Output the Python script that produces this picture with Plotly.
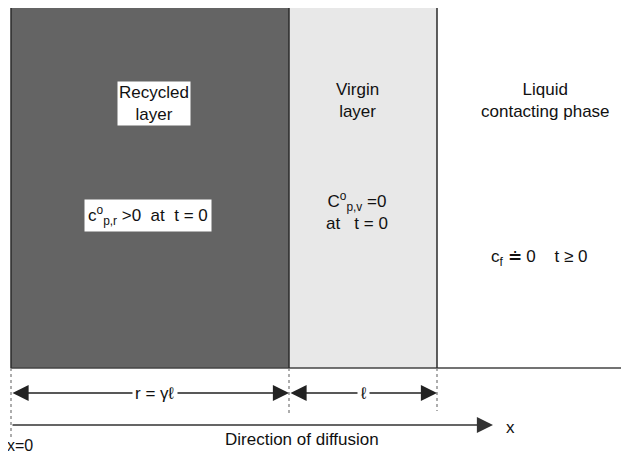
import plotly.graph_objects as go

# ---- diagram data (pixel-like units of the drawing) ----
layer_labels = ["Recycled<br>layer", "Virgin<br>layer", "Liquid<br>contacting phase"]
layer_edges = [11, 289, 437, 628]          # x boundaries of the three regions
layer_top = 5
layer_bottom = 368
layer_fills = ["#646464", "#e8e8e8", "#ffffff"]
label_centers_x = [154, 357, 545]
label_centers_y = [103, 100, 100]
label_boxed = [True, False, False]

cond_texts = [
    "c<sup>o</sup><sub>p,r</sub> >0 \u00a0at \u00a0t = 0",
    "C<sup>o</sup><sub>p,v</sub> =0<br>at \u00a0 t = 0",
    "c<sub>f</sub> \u2250 0 \u00a0 \u00a0t \u2265 0",
]
cond_x = [148, 357, 539]
cond_y = [215, 211, 258]
cond_boxed = [True, False, False]

dim_labels = ["r = \u03b3\u2113", "\u2113"]
dim_y = 393
dim_label_x = [155, 363]
dotted_bottoms = [437, 413, 411]

diff_y = 425
diff_end = 493
diff_label = "Direction of diffusion"
diff_label_xy = (302, 439)
x_label_xy = (510, 427)
origin_label = "x=0"
origin_label_xy = (20, 445)

FONT = "Liberation Sans, Arial, Helvetica, sans-serif"
TXT = "#111111"
FS = 17
PAGE_OFFSET = 8  # default body margin of the html page

fig = go.Figure()
shapes = []
annotations = []

# layer rectangles
for i in range(3):
    shapes.append(dict(type="rect", xref="x", yref="y",
                       x0=layer_edges[i], x1=layer_edges[i + 1],
                       y0=layer_top, y1=layer_bottom,
                       fillcolor=layer_fills[i], line=dict(width=0), layer="below"))

# outer top / bottom lines
shapes.append(dict(type="line", x0=layer_edges[0], x1=layer_edges[-1], y0=layer_top, y1=layer_top,
                   line=dict(color="#5a5a5a", width=2)))
shapes.append(dict(type="line", x0=layer_edges[0], x1=layer_edges[-1], y0=layer_bottom, y1=layer_bottom,
                   line=dict(color="#444444", width=1.5)))
# vertical boundaries
for xb in layer_edges[:3]:
    shapes.append(dict(type="line", x0=xb, x1=xb, y0=layer_top, y1=layer_bottom,
                       line=dict(color="#2a2a2a", width=1.5)))
# dotted extension lines
for xb, yb in zip(layer_edges[:3], dotted_bottoms):
    shapes.append(dict(type="line", x0=xb, x1=xb, y0=layer_bottom, y1=yb,
                       line=dict(color="#777777", width=1.2, dash="dot")))

# layer labels
for t, x, y, boxed in zip(layer_labels, label_centers_x, label_centers_y, label_boxed):
    annotations.append(dict(x=x, y=y, text=t, showarrow=False,
                            font=dict(family=FONT, size=FS, color=TXT),
                            bgcolor="white" if boxed else "rgba(0,0,0,0)",
                            borderpad=1))
# condition labels
for t, x, y, boxed in zip(cond_texts, cond_x, cond_y, cond_boxed):
    annotations.append(dict(x=x, y=y, text=t, showarrow=False,
                            font=dict(family=FONT, size=FS, color=TXT),
                            bgcolor="white" if boxed else "rgba(0,0,0,0)",
                            borderpad=3))

# dimension arrows (double-headed)
for i in range(2):
    annotations.append(dict(x=layer_edges[i + 1], y=dim_y, ax=layer_edges[i], ay=dim_y,
                            xref="x", yref="y", axref="x", ayref="y", text="",
                            showarrow=True, arrowhead=2, arrowsize=2.3, arrowwidth=1.4,
                            arrowcolor="#222222", arrowside="end+start", standoff=0, startstandoff=0))
    annotations.append(dict(x=dim_label_x[i], y=dim_y, text=dim_labels[i], showarrow=False,
                            font=dict(family=FONT, size=FS, color=TXT),
                            bgcolor="white", borderpad=2))

# direction of diffusion arrow
annotations.append(dict(x=diff_end, y=diff_y, ax=layer_edges[0], ay=diff_y,
                        xref="x", yref="y", axref="x", ayref="y", text="",
                        showarrow=True, arrowhead=2, arrowsize=2.3, arrowwidth=1.4,
                        arrowcolor="#333333", standoff=0))
annotations.append(dict(x=diff_label_xy[0], y=diff_label_xy[1], text=diff_label, showarrow=False,
                        font=dict(family=FONT, size=FS, color=TXT)))
annotations.append(dict(x=x_label_xy[0], y=x_label_xy[1], text="x", showarrow=False,
                        font=dict(family=FONT, size=FS, color=TXT)))
annotations.append(dict(x=origin_label_xy[0], y=origin_label_xy[1], text=origin_label, showarrow=False,
                        font=dict(family=FONT, size=16, color=TXT)))

fig.update_layout(
    width=629, height=454,
    margin=dict(l=0, r=0, t=0, b=0),
    paper_bgcolor="white", plot_bgcolor="white",
    xaxis=dict(range=[PAGE_OFFSET, 629 + PAGE_OFFSET], visible=False, fixedrange=True),
    yaxis=dict(range=[454 + PAGE_OFFSET, PAGE_OFFSET], visible=False, fixedrange=True),
    shapes=shapes, annotations=annotations, showlegend=False,
)
fig.write_html("out.html")
